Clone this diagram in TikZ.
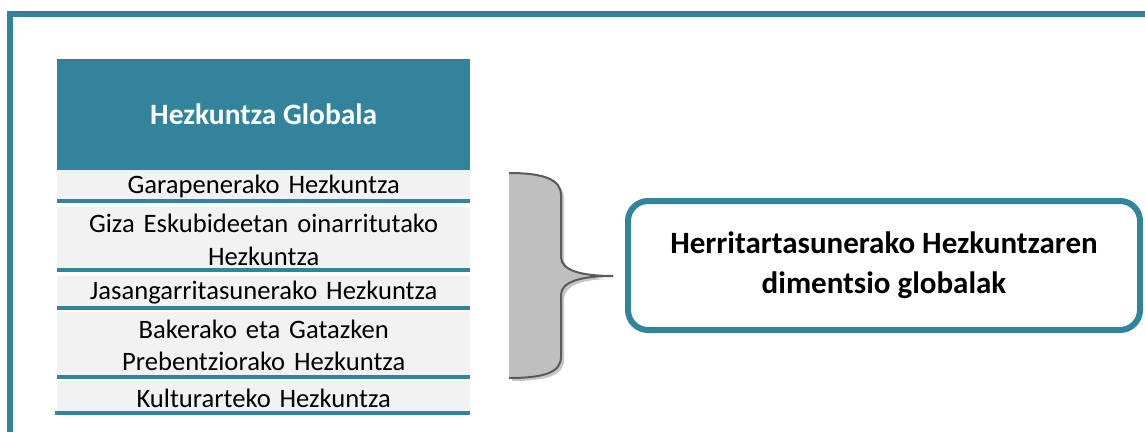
\documentclass[tikz,border=0pt]{standalone}
\usepackage{fontspec}
\setmainfont{Carlito}
\definecolor{teal}{HTML}{31849B}
\definecolor{rowgray}{HTML}{F2F2F2}
\definecolor{bracefill}{HTML}{BFBFBF}
\definecolor{braceline}{HTML}{5A5A5A}
\begin{document}
\begin{tikzpicture}[x=1pt,y=-1pt,
  header/.style={fill=teal,text=white,font=\fontsize{29.5}{34}\selectfont\bfseries,
    minimum width=413pt,minimum height=111pt,inner sep=0pt,anchor=north west},
  rowbox/.style={fill=rowgray,text=black,font=\fontsize{26.6}{32.5}\selectfont,
    minimum width=413pt,inner sep=0pt,anchor=north west,align=center,text width=410pt},
  sepline/.style={draw=teal,line width=4pt},
  mainbox/.style={draw=teal,line width=6pt,rounded corners=20pt,fill=white,
    minimum width=512pt,minimum height=129pt,align=center,
    font=\fontsize{31}{40}\selectfont\bfseries}]
\useasboundingbox (0,0) rectangle (1145,432);
% outer frame
\fill[teal] (7,11) rectangle (1145,17);
\fill[teal] (7,11) rectangle (13,432);
% table
\node[header] (hdr) at (57,59) {Hezkuntza Globala};
\node[rowbox,minimum height=33pt] (r1) at (57,170) {Garapenerako Hezkuntza};
\node[rowbox,minimum height=65pt] (r2) at (57,207) {Giza Eskubideetan oinarritutako\\Hezkuntza};
\node[rowbox,minimum height=33pt] (r3) at (57,276) {Jasangarritasunerako Hezkuntza};
\node[rowbox,minimum height=66pt] (r4) at (57,312) {Bakerako eta Gatazken\\Prebentziorako Hezkuntza};
\node[rowbox,minimum height=34pt] (r5) at (57,381) {Kulturarteko Hezkuntza};
\draw[sepline] ([yshift=2pt]r1.south west) -- ([yshift=2pt]r1.south east);
\draw[sepline] ([yshift=2pt]r2.south west) -- ([yshift=2pt]r2.south east);
\draw[sepline] ([yshift=1.5pt]r3.south west) -- ([yshift=1.5pt]r3.south east);
\draw[sepline] ([yshift=1.5pt]r4.south west) -- ([yshift=1.5pt]r4.south east);
\draw[sepline] ([xshift=-2pt,yshift=2pt]r5.south west) -- ([yshift=2pt]r5.south east);
% brace shadow
\fill[gray!45] (512,176) .. controls (548,176) and (564,183) .. (564,198) -- (564,258)
  .. controls (564,273) and (583,279) .. (613,279)
  .. controls (583,279) and (564,285) .. (564,300) -- (564,360)
  .. controls (564,375) and (548,381) .. (512,381) -- cycle;
% brace
\fill[bracefill] (509,173) .. controls (545,173) and (561,180) .. (561,195) -- (561,257)
  .. controls (561,270) and (580,276) .. (613,276)
  .. controls (580,276) and (561,282) .. (561,295) -- (561,357)
  .. controls (561,372) and (545,378) .. (509,378) -- cycle;
\draw[braceline,line width=2pt] (509,173) .. controls (545,173) and (561,180) .. (561,195) -- (561,257)
  .. controls (561,270) and (580,276) .. (613,276)
  .. controls (580,276) and (561,282) .. (561,295) -- (561,357)
  .. controls (561,372) and (545,378) .. (509,378);
\coordinate (tip) at (613,276);
% target box
\node[mainbox] (dim) at (884,265.5) {Herritartasunerako Hezkuntzaren\\dimentsio globalak};
\end{tikzpicture}
\end{document}
